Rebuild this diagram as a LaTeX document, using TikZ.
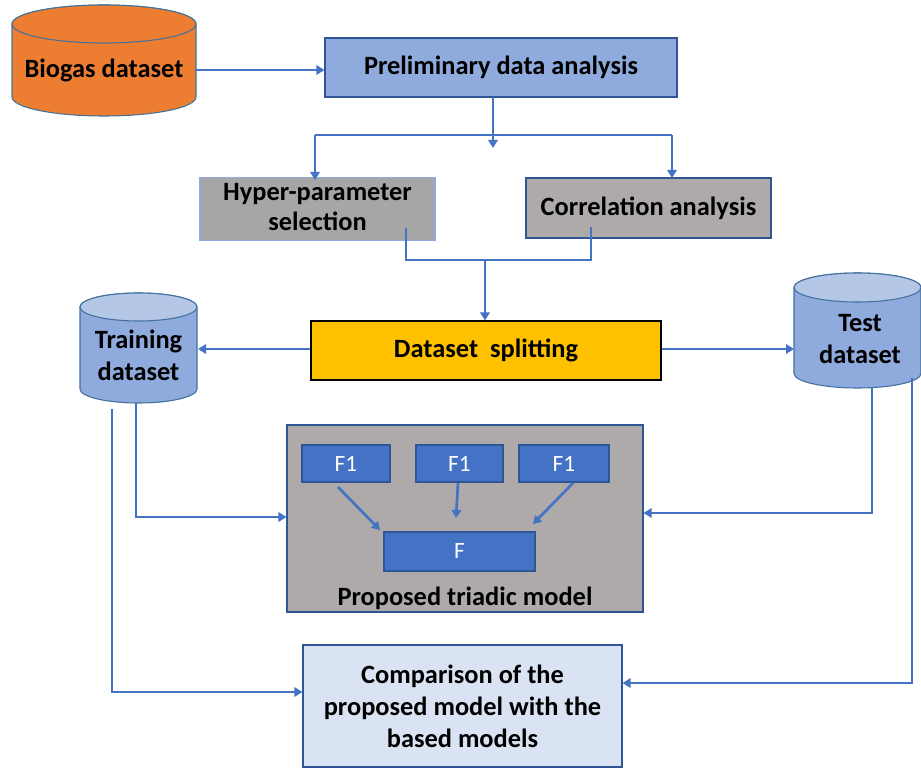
\documentclass[tikz,border=0pt]{standalone}
\usepackage{fontspec}
\setmainfont{Carlito}
\usetikzlibrary{arrows.meta}
\definecolor{arrowblue}{HTML}{4472C4}
\definecolor{darkblue}{HTML}{2F5597}
\definecolor{cylborder}{HTML}{41719C}
\definecolor{orangefill}{HTML}{ED7D31}
\definecolor{lightblue}{HTML}{8FAADC}
\definecolor{paleblue}{HTML}{B4C7E7}
\definecolor{greyfill}{HTML}{AEAAAA}
\definecolor{greyfillb}{HTML}{A6A6A6}
\definecolor{gold}{HTML}{FFC000}
\definecolor{compfill}{HTML}{DAE3F3}
\tikzset{
  conn/.style={draw=arrowblue, line width=2pt},
  arr/.style={conn, -{Triangle[length=6pt,width=7pt]}},
  boxstyle/.style={rectangle, inner sep=0pt, font=\fontsize{19.8}{24}\selectfont\bfseries, align=center},
  fbox/.style={rectangle, draw=darkblue, line width=0.8pt, fill=arrowblue, inner sep=0pt, text=white, font=\fontsize{17.5}{20}\selectfont},
  txt/.style={inner sep=0pt, font=\fontsize{19.8}{24}\selectfont\bfseries, align=center},
}
\begin{document}
\begin{tikzpicture}[x=0.75pt,y=0.75pt]
\useasboundingbox (0,0) rectangle (921,769);
% Biogas cylinder
\path[fill=orangefill, draw=cylborder, line width=0.8pt] (12,745) -- (12,672) arc[start angle=180,end angle=360,x radius=92,y radius=19] -- (196,745) arc[start angle=0,end angle=180,x radius=92,y radius=19] -- cycle;
\draw[fill=orangefill, draw=cylborder, line width=0.8pt] (104,745) ellipse[x radius=92,y radius=19];
\node[txt] (bio) at (104,699) {Biogas dataset};
\coordinate (bioE) at (196,699);
% Preliminary
\node[boxstyle, fill=lightblue, draw=darkblue, line width=0.8pt, minimum width=352*0.75pt, minimum height=59*0.75pt] (pre) at (501,701.5) {Preliminary data analysis};
% Hyper & correlation
\node[boxstyle, fill=greyfillb, draw=lightblue, line width=0.8pt, minimum width=235*0.75pt, minimum height=58*0.75pt] (hyp) at (317.5,560) {\raisebox{5pt}{\begin{tabular}{@{}c@{}}Hyper-parameter\\[-1pt] selection\end{tabular}}};
\node[boxstyle, fill=greyfill, draw=darkblue, line width=0.8pt, minimum width=245*0.75pt, minimum height=60*0.75pt] (cor) at (648.5,561) {Correlation analysis};
% splitting
\node[boxstyle, fill=gold, draw=black, line width=0.8pt, minimum width=350*0.75pt, minimum height=59*0.75pt] (spl) at (486,418.5) {Dataset\ \ splitting};
% Training cylinder
\path[fill=lightblue, draw=cylborder, line width=0.8pt] (80,462) -- (80,380) arc[start angle=180,end angle=360,x radius=58.5,y radius=14] -- (197,462) arc[start angle=0,end angle=180,x radius=58.5,y radius=14] -- cycle;
\draw[fill=paleblue, draw=cylborder, line width=0.8pt] (138.5,462) ellipse[x radius=58.5,y radius=14];
\node[txt] (trn) at (138.5,414) {Training\\dataset};
% Test cylinder
\path[fill=lightblue, draw=cylborder, line width=0.8pt] (794,481.5) -- (794,395.5) arc[start angle=180,end angle=360,x radius=63.5,y radius=14.5] -- (921,481.5) arc[start angle=0,end angle=180,x radius=63.5,y radius=14.5] -- cycle;
\draw[fill=paleblue, draw=cylborder, line width=0.8pt] (857.5,481.5) ellipse[x radius=63.5,y radius=14.5];
\node[txt] (tst) at (860,430) {Test\\dataset};
% Triadic
\node[rectangle, fill=greyfill, draw=darkblue, line width=0.8pt, minimum width=356*0.75pt, minimum height=187*0.75pt, inner sep=0pt] (tri) at (465,250.5) {};
\node[fbox, minimum width=88*0.75pt, minimum height=37*0.75pt] (fa) at (346,305.5) {F1};
\node[fbox, minimum width=87*0.75pt, minimum height=37*0.75pt] (fb) at (459.5,305.5) {F1};
\node[fbox, minimum width=90*0.75pt, minimum height=37*0.75pt] (fc) at (564,305.5) {F1};
\node[fbox, minimum width=151*0.75pt, minimum height=39*0.75pt] (ff) at (459.5,217.5) {F};
\node[txt] (tlab) at (465,171) {Proposed triadic model};
% Comparison
\node[boxstyle, fill=compfill, draw=darkblue, line width=0.8pt, minimum width=319*0.75pt, minimum height=122*0.75pt] (cmp) at (462.5,63) {Comparison of the\\proposed model with the\\based models};
% Connectors
\draw[arr] (bioE) -- (pre.west |- bioE);
\coordinate (preS) at (493,672);
\draw[arr] (preS) -- (493,621);
\draw[conn] (315,634) -- (672,634);
\draw[arr] (315,634) -- (315,589);
\draw[arr] (672,634) -- (672,591);
\draw[conn] (406,541) -- (406,509) -- (591,509) -- (591,542);
\draw[arr] (485,509) -- (spl.north -| 485,0);
\draw[arr] (spl.west |- 0,420) -- (198,420);
\draw[arr] (spl.east |- 0,420) -- (794,420);
\draw[arr] (338,282) -- (380,239);
\draw[arr] (458,286) -- (456,251);
\draw[arr] (573,286) -- (533,245);
\draw[arr] (136,366) -- (136,252) -- (tri.west |- 0,252);
\draw[arr] (872,382) -- (872,256) -- (tri.east |- 0,256);
\draw[arr] (112,360) -- (112,77) -- (cmp.west |- 0,77);
\draw[arr] (912,391) -- (912,86) -- (cmp.east |- 0,86);
\end{tikzpicture}
\end{document}
